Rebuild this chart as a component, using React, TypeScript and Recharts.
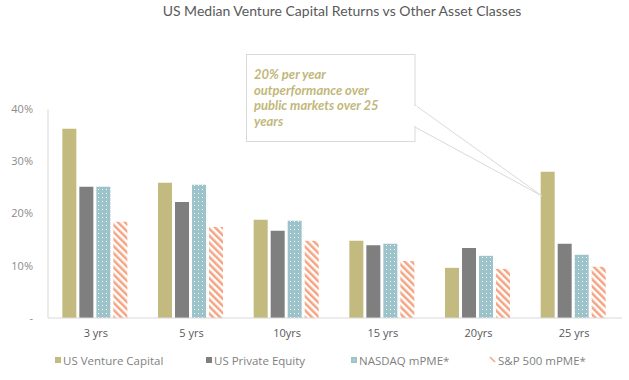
import { BarChart, Bar, XAxis, YAxis } from 'recharts';

const periods = ['3 yrs', '5 yrs', '10yrs', '15 yrs', '20yrs', '25 yrs'];
const ventureCapital = [36.2, 25.9, 18.8, 14.8, 9.6, 28.0];
const privateEquity = [25.1, 22.2, 16.7, 13.9, 13.4, 14.2];
const nasdaqPme = [25.1, 25.5, 18.6, 14.2, 11.9, 12.1];
const sp500Pme = [18.4, 17.4, 14.8, 10.9, 9.4, 9.8];
const yTicks = [0, 10, 20, 30, 40];
const calloutLines = ['20% per year', 'outperformance over', 'public markets over 25', 'years'];

const data = periods.map((p, i) => ({
  period: p,
  vc: ventureCapital[i],
  pe: privateEquity[i],
  nasdaq: nasdaqPme[i],
  sp: sp500Pme[i],
}));

const legendItems = [
  { label: 'US Venture Capital', kind: 'solid', fill: '#C2BA7E', x: 55 },
  { label: 'US Private Equity', kind: 'solid', fill: '#7F7F7F', x: 206 },
  { label: 'NASDAQ mPME*', kind: 'dots', fill: '#9DC3CA', x: 351 },
  { label: 'S&P 500 mPME*', kind: 'stripe', fill: '#F4A482', x: 490 },
];

const font = 'Lato, "Open Sans", sans-serif';
const tickFont = '"Open Sans", sans-serif';

const App = () => {
  return (
    <div style={{ position: 'absolute', left: 0, top: 0, width: 629, height: 380, background: '#fff', fontFamily: font }}>
      <BarChart
        width={629}
        height={380}
        data={data}
        margin={{ top: 109, right: 7, left: 0, bottom: 32 }}
        barCategoryGap="15%"
        barGap={3}
      >
        <defs>
          <pattern id="dots" width="4" height="4" patternUnits="userSpaceOnUse">
            <rect width="4" height="4" fill="#9DC3CA" />
            <rect x="2" y="1" width="1" height="1" fill="#ffffff" />
          </pattern>
          <pattern id="stripes" width="5" height="5" patternUnits="userSpaceOnUse" patternTransform="rotate(-45)">
            <rect width="5" height="5" fill="#ffffff" />
            <rect width="2.5" height="5" fill="#F4A482" />
          </pattern>
        </defs>
        <XAxis
          dataKey="period"
          height={30}
          stroke="#D9D9D9"
          tickLine={false}
          tick={{ fill: '#595959', fontSize: 11, fontFamily: tickFont }}
          tickMargin={5}
        />
        <YAxis
          width={48}
          domain={[0, 40]}
          ticks={yTicks}
          stroke="#D9D9D9"
          tickLine={false}
          tickFormatter={(v: number) => (v === 0 ? '-' : `${v}%`)}
          tick={{ fill: '#8C8C8C', fontSize: 11, fontFamily: tickFont }}
          tickMargin={9}
        />
        <Bar dataKey="vc" fill="#C2BA7E" isAnimationActive={false} />
        <Bar dataKey="pe" fill="#7F7F7F" isAnimationActive={false} />
        <Bar dataKey="nasdaq" fill="url(#dots)" isAnimationActive={false} />
        <Bar dataKey="sp" fill="url(#stripes)" isAnimationActive={false} />
      </BarChart>

      <svg width={629} height={380} style={{ position: 'absolute', left: 0, top: 0, pointerEvents: 'none' }}>
        <text x={342} y={16} textAnchor="middle" fill="#595959" fontSize={14} fontFamily={font}>
          US Median Venture Capital Returns vs Other Asset Classes
        </text>
        <polyline points="415,105 542,196 415,127" fill="none" stroke="#D9D9D9" strokeWidth={1} />
        <rect x={246.5} y={54.5} width={168.5} height={87} fill="#fff" stroke="#D9D9D9" strokeWidth={1} />
        <rect x={414} y={106} width={3} height={20} fill="#fff" />
        {calloutLines.map((line, i) => (
          <text
            key={line}
            x={254}
            y={79 + i * 15.7}
            fill="#C2B77A"
            fontSize={13}
            fontWeight="bold"
            fontStyle="italic"
            fontFamily={font}
          >
            {line}
          </text>
        ))}
        {legendItems.map((item) => (
          <g key={item.label}>
            {item.kind === 'stripe' ? (
              <line x1={item.x} y1={357} x2={item.x + 5} y2={362} stroke={item.fill} strokeWidth={1.5} />
            ) : item.kind === 'dots' ? (
              <g>
                <rect x={item.x} y={357} width={6} height={6} fill={item.fill} />
                <rect x={item.x + 2.5} y={359.5} width={1} height={1} fill="#fff" />
              </g>
            ) : (
              <rect x={item.x} y={357} width={6} height={6} fill={item.fill} />
            )}
            <text x={item.x + 8} y={364.5} fill="#7F7F7F" fontSize={11.5} fontFamily={tickFont}>
              {item.label}
            </text>
          </g>
        ))}
      </svg>
    </div>
  );
};

export default App;
